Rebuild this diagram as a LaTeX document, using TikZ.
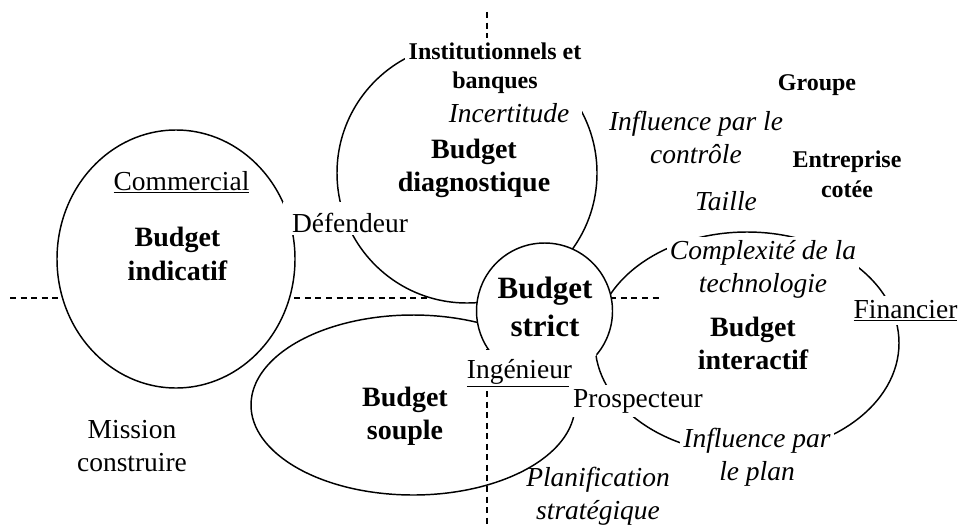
\documentclass[tikz,border=0pt]{standalone}
\usepackage{fontspec}
\setmainfont{Liberation Serif}
\begin{document}
\begin{tikzpicture}[x=0.75pt,y=-0.75pt,
  outline/.style={line width=1.1pt},
  guide/.style={line width=1pt, dash pattern=on 4.5pt off 3.4pt},
  txt/.style={font=\fontsize{20.6pt}{24.75pt}\selectfont, align=center, inner sep=0pt},
  itx/.style={font=\fontsize{20.6pt}{24.75pt}\selectfont\itshape, align=center, inner sep=0pt},
  bud/.style={font=\fontsize{21pt}{25.1pt}\selectfont\bfseries, align=center, inner sep=0pt},
  sbold/.style={font=\fontsize{18pt}{22.1pt}\selectfont\bfseries, align=center, inner sep=0pt},
  bigbud/.style={font=\fontsize{23.25pt}{28.5pt}\selectfont\bfseries, align=center, inner sep=0pt},
  mask/.style={fill=white}
]
\useasboundingbox (0,0) rectangle (962,528);
\fill[white] (0,0) rectangle (962,528);

% dashed guide lines
\coordinate (hL) at (10,298);
\coordinate (hR) at (663,298);
\coordinate (vT) at (487,12);
\coordinate (vB) at (487,528);
\draw[guide] (hL) -- (hR);
\draw[guide] (vT) -- (vB);

% Budget interactif
\draw[outline] (747,343) ellipse [x radius=152, y radius=111];
% Budget souple (partly hidden)
\draw[outline] (413,405) ++(6.4:162 and 90) arc [start angle=6.4, end angle=294.5, x radius=162, y radius=90];
% Budget indicatif
\draw[outline, fill=white] (176,259) ellipse [x radius=119, y radius=129];
% Budget diagnostique
\draw[outline, fill=white] (467,173) circle [radius=130];
% Budget strict
\fill[white] (544.5,311) circle [radius=68];
\draw[outline] (544.5,311) ++(40:68) arc [start angle=40, end angle=-220, radius=68];

% texts
\node[sbold, mask, inner xsep=3pt, inner ysep=3.75pt] (inst) at (495,68.3) {Institutionnels et\\banques};
\node[itx, mask, anchor=base, inner xsep=9.75pt, inner ysep=3.75pt] (incert) at (509,122) {Incertitude};
\node[bud] (diag) at (474,168.5) {Budget\\diagnostique};
\node[sbold, anchor=base] (groupe) at (817,90) {Groupe};
\node[itx] (ctrl) at (696,137.6) {Influence par le\\contrôle};
\node[sbold] (cotee) at (847,174.4) {Entreprise\\cotée};
\node[itx, anchor=base] (taille) at (726,210) {Taille};
\node[itx, mask, inner sep=2.25pt] (tech) at (763,269) {Complexité de la\\technologie};
\node[txt, anchor=base] (comm) at (181.5,190) {\underline{Commercial}};
\node[bud] (indic) at (177.5,254) {Budget\\indicatif};
\node[txt, mask, anchor=base, inner xsep=6.75pt, inner ysep=2.25pt, text height=20pt, text depth=0pt] (def) at (350,232) {Défendeur};
\node[bigbud] (strict) at (545,306.5) {Budget\\strict};
\node[bud] (inter) at (753,343.5) {Budget\\interactif};
\node[txt, mask, anchor=base, inner sep=3pt] (fin) at (905.5,318) {\underline{Financier}};
\node[txt, mask, anchor=base, inner xsep=3pt, inner ysep=3pt, text height=18pt] (ing) at (519.5,378) {\underline{Ingénieur}};
\node[txt, mask, anchor=base, inner sep=3pt] (pros) at (638,407) {Prospecteur};
\node[bud] (souple) at (405,416) {Budget\\souple};
\node[txt] (mission) at (132,445.6) {Mission\\construire};
\node[itx] (plan) at (598,496) {Planification\\stratégique};
\node[itx, mask, inner sep=2.25pt] (infl) at (757,457.5) {Influence par\\le plan};
\end{tikzpicture}
\end{document}
